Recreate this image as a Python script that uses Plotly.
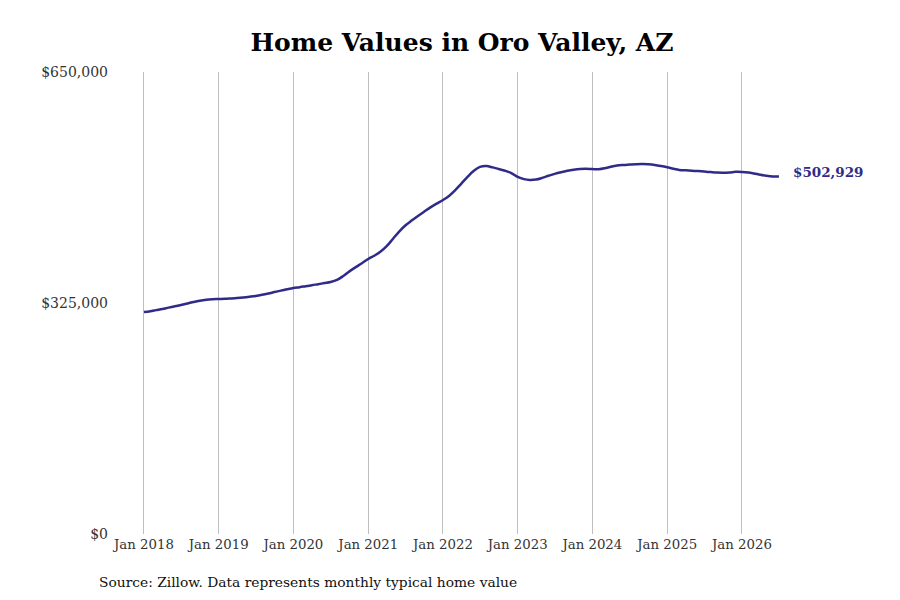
import pandas as pd
import plotly.graph_objects as go

# monthly typical home value, Jan 2018 - Jul 2026
months = pd.date_range("2018-01-01", "2026-07-01", freq="MS")
values = [
    312300, 313500, 315000, 316600, 318500, 320300, 322200, 324300, 326500, 328300, 329600, 330300,  # 2018
    330600, 330900, 331400, 332000, 332800, 333800, 334900, 336500, 338400, 340400, 342400, 344300,  # 2019
    346100, 347300, 348600, 350000, 351500, 353000, 354500, 357400, 363000, 369500, 375500, 381000,  # 2020
    386900, 391800, 397000, 405000, 415000, 425500, 434000, 441000, 447500, 453500, 459500, 464800,  # 2021
    469900, 476000, 483500, 493000, 502500, 511000, 516500, 517700, 515800, 513500, 511000, 507800,  # 2022
    502500, 499300, 498100, 498700, 501000, 504000, 506700, 509000, 511000, 512500, 513600, 513900,  # 2023
    513500, 513200, 514500, 516800, 518500, 519300, 519800, 520300, 520500, 520100, 519200, 517800,  # 2024
    516000, 513800, 512200, 511600, 511200, 510600, 509900, 509200, 508500, 508300, 508700, 509500,  # 2025
    509400, 508700, 507300, 505500, 504000, 503000, 502929,                                          # 2026
]

tick_dates = pd.date_range("2018-01-01", "2026-01-01", freq="YS")
tick_labels = [d.strftime("Jan %Y") for d in tick_dates]
y_ticks = [0, 325000, 650000]
y_labels = ["$0", "$325,000", "$650,000"]

line_color = "#2f2b88"
serif = "DejaVu Serif"

fig = go.Figure()
fig.add_trace(go.Scatter(
    x=months,
    y=values,
    mode="lines",
    line=dict(color=line_color, width=2.5, shape="spline"),
    hoverinfo="skip",
    showlegend=False,
))

# label on the last point
fig.add_annotation(
    x=months[-1], y=values[-1],
    text="<b>${:,}</b>".format(values[-1]),
    showarrow=False, xanchor="left", xshift=12, yshift=5,
    font=dict(family=serif, size=13.5, color=line_color),
)

fig.add_annotation(
    xref="paper", yref="paper", x=-0.0175, y=-0.104,
    text="Source: Zillow. Data represents monthly typical home value",
    showarrow=False, xanchor="left", yanchor="middle",
    font=dict(family=serif, size=13.8, color="#111"),
)

# page body has an 8px margin, so margins are offset by 8px
fig.update_layout(
    width=900, height=600,
    margin=dict(l=102, r=48, t=64, b=74),
    paper_bgcolor="white",
    plot_bgcolor="white",
    title=dict(
        text="<b>Home Values in Oro Valley, AZ</b>",
        x=0.5044, xanchor="center", y=0.943, yanchor="middle",
        font=dict(family=serif, size=25, color="#000"),
    ),
    xaxis=dict(
        range=["2017-07-19", "2027-08-01"],
        tickvals=tick_dates, ticktext=tick_labels,
        showgrid=True, gridcolor="#bfbfbf", gridwidth=1,
        zeroline=False, showline=False, ticks="",
        ticklabelstandoff=1,
        tickfont=dict(family=serif, size=13.3, color="#333"),
    ),
    yaxis=dict(
        range=[0, 650000],
        tickvals=y_ticks, ticktext=y_labels,
        showgrid=False, zeroline=False, showline=False, ticks="",
        ticklabelstandoff=1,
        tickfont=dict(family=serif, size=14, color="#333"),
    ),
)

fig.write_html("out.html")
